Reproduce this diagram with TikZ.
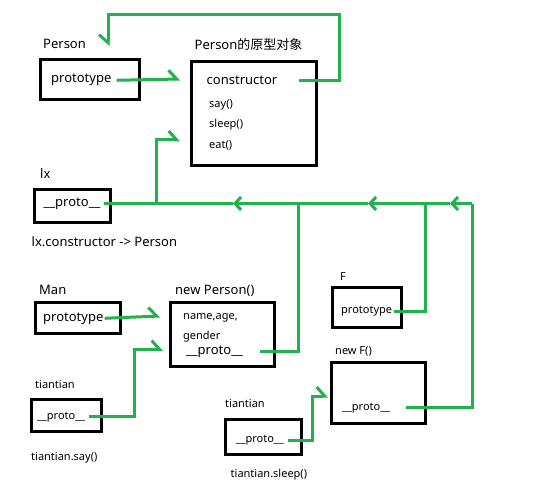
\documentclass[tikz,border=0pt]{standalone}
\usepackage{fontspec}
\setmainfont{Noto Sans}
\newfontfamily\cjk{Noto Sans CJK SC}
\usetikzlibrary{arrows.meta}
\definecolor{paintgreen}{RGB}{34,177,76}
\tikzset{
	box/.style={draw=black, line width=3pt, inner sep=0pt},
	lbig/.style={font=\fontsize{13}{15}\selectfont, inner sep=0pt, anchor=base west},
	lsmall/.style={font=\fontsize{11}{13}\selectfont, inner sep=0pt, anchor=base west},
	link/.style={draw=paintgreen, line width=3pt},
	barbl/.style={-{Straight Barb[harpoon, length=8pt, width=18pt]}},
	barbr/.style={-{Straight Barb[harpoon, swap, length=8pt, width=18pt]}},
	barbboth/.style={-{Straight Barb[length=6pt, width=13pt]}}
}

\begin{document}
\begin{tikzpicture}[x=1pt, y=-1pt]
		%%%%% START %%%%%
		\useasboundingbox (0,0) rectangle (537,481);
		
		% Person and its prototype object
		\node[box, minimum width=99pt, minimum height=40pt] (personbox) at (90,79.5) {};
		\node[lbig] (person) at (43,49) {Person};
		\node[lbig] (pproto) at (51,83) {prototype};
		
		\node[box, minimum width=125pt, minimum height=104pt] (pobjbox) at (254,113.5) {};
		\node[lbig] (pobj) at (194.5,49.5) {Person{\cjk 的原型对象}};
		\node[lbig] (ctor) at (206.5,84.5) {constructor};
		\node[lsmall] (say) at (209,107.5) {say()};
		\node[lsmall] (sleep) at (209,127.5) {sleep()};
		\node[lsmall] (eat) at (209,149) {eat()};
		
		% lx
		\node[box, minimum width=76pt, minimum height=33pt] (lxbox) at (72.5,206) {};
		\node[lbig] (lx) at (40,178) {lx};
		\node[lbig] (lxproto) at (43.5,206) {\_\_proto\_\_};
		\node[lbig] (lxnote) at (31.5,246) {lx.constructor -> Person};
		
		% Man and new Person()
		\node[box, minimum width=85pt, minimum height=31pt] (manbox) at (78,318) {};
		\node[lbig] (man) at (39,294) {Man};
		\node[lbig] (mproto) at (43,321) {prototype};
		
		\node[box, minimum width=104pt, minimum height=64pt] (npbox) at (222.5,334.5) {};
		\node[lbig] (np) at (175,294) {new Person()};
		\node[lsmall] (nameage) at (183,319) {name,age,};
		\node[lsmall] (gender) at (183,339.5) {gender};
		\node[lbig] (npproto) at (186,354) {\_\_proto\_\_};
		
		% tiantian (Man)
		\node[box, minimum width=70pt, minimum height=32pt] (ttbox) at (66.5,415.5) {};
		\node[lsmall] (tt) at (35,388.5) {tiantian};
		\node[lsmall] (ttproto) at (37,419) {\_\_proto\_\_};
		\node[lsmall] (ttsay) at (31,460) {tiantian.say()};
		
		% F and new F()
		\node[box, minimum width=69pt, minimum height=40pt] (fbox) at (367,307.5) {};
		\node[lsmall] (f) at (340,280) {F};
		\node[lsmall] (fproto) at (341,313.5) {prototype};
		
		\node[box, minimum width=94pt, minimum height=61pt] (nfbox) at (378.5,393) {};
		\node[lsmall] (nf) at (335,354.5) {new F()};
		\node[lsmall] (nfproto) at (342,410) {\_\_proto\_\_};
		
		% tiantian (F)
		\node[box, minimum width=76pt, minimum height=35pt] (tttbox) at (263.5,437) {};
		\node[lsmall] (ttt) at (225,407) {tiantian};
		\node[lsmall] (tttproto) at (235.6,442.5) {\_\_proto\_\_};
		\node[lsmall] (tttsleep) at (230.5,477.5) {tiantian.sleep()};
		
		% corners and arrow tips
		\coordinate (ctorcorner) at (339,15);
		\coordinate (persontip) at (108,46);
		\coordinate (pobjtip) at (180,79);
		\coordinate (lxup) at (156,203.5);
		\coordinate (pobjtip2) at (180,140);
		\coordinate (chainend) at (472,203.5);
		\coordinate (chainc) at (450,203.5);
		\coordinate (chainb) at (368,203.5);
		\coordinate (chaina) at (233,203.5);
		\coordinate (npup) at (298,203.5);
		\coordinate (fup) at (425,203.5);
		\coordinate (mantip) at (160,316);
		\coordinate (ttcorner) at (134,349.5);
		\coordinate (tttip) at (163,349.5);
		\coordinate (tttcorner) at (312,396);
		\coordinate (ttttip) at (328,396);
		
		% links
		\draw[link, barbr] ([xshift=21pt]ctor.east) -| (ctorcorner) -| (persontip);
		\draw[link, barbl] ([xshift=5pt]pproto.east) -- (pobjtip);
		\draw[link, barbboth] (chainend) -- (chainc);
		\draw[link, barbboth] (chainc) -- (chainb);
		\draw[link, barbboth] (chainb) -- (chaina);
		\draw[link] (chaina) -- ([xshift=3pt]lxproto.east |- chaina);
		\draw[link, barbl] (lxup) |- (pobjtip2);
		\draw[link] ([xshift=17pt]npproto.east) -| (npup);
		\draw[link] ([xshift=2pt]fproto.east) -| (fup);
		\draw[link] ([xshift=16pt]nfproto.east) -| (chainend);
		\draw[link, barbl] ([xshift=1pt]mproto.east) -- (mantip);
		\draw[link, barbl] ([xshift=4pt]ttproto.east) -| (ttcorner) -- (tttip);
		\draw[link, barbl] ([xshift=4pt]tttproto.east) -| (tttcorner) -- (ttttip);
		%%%%% END %%%%%
\end{tikzpicture}
\end{document}
